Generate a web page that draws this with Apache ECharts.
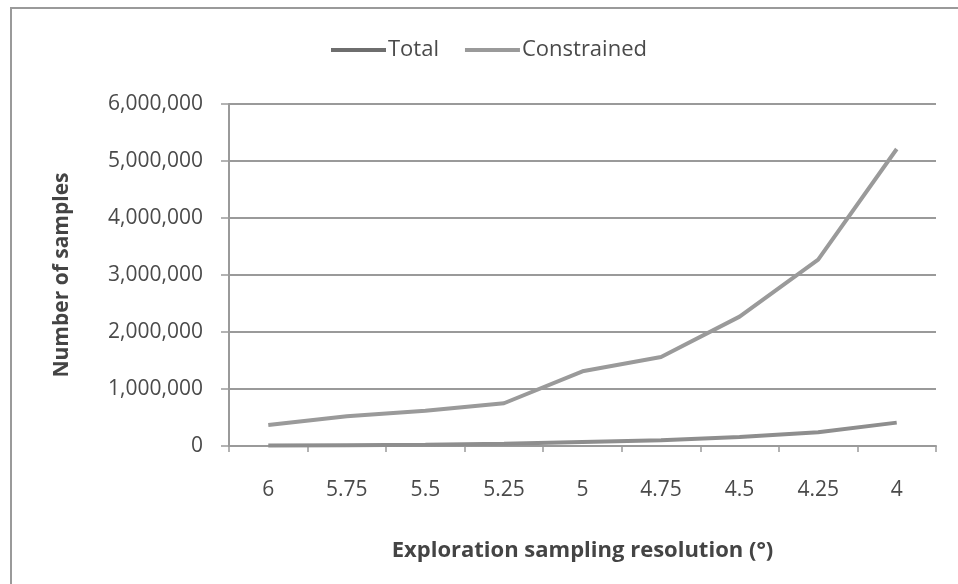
<!DOCTYPE html>
<html>
<head>
<meta charset="utf-8">
<script src="https://cdn.jsdelivr.net/npm/echarts@6/dist/echarts.min.js"></script>
<style>
  html, body { margin: 0; padding: 0; background: #fff; }
  #frame { position: absolute; left: 10px; top: 7px; width: 960px; height: 590px;
           border-left: 2px solid #9a9a9a; border-top: 2px solid #9a9a9a; }
  #chart { position: absolute; left: 0; top: 0; width: 958px; height: 584px; }
</style>
</head>
<body>
<div id="frame"></div>
<div id="chart"></div>
<script>
const categories = ['6', '5.75', '5.5', '5.25', '5', '4.75', '4.5', '4.25', '4'];
const totalValues = [10000, 15000, 20000, 40000, 70000, 100000, 160000, 240000, 410000];
const constrainedValues = [370000, 520000, 620000, 750000, 1310000, 1560000, 2270000, 3270000, 5210000];
const yMin = 0, yMax = 6000000, yStep = 1000000;

const font = '"Open Sans", "Noto Sans", sans-serif';
const chart = echarts.init(document.getElementById('chart'));
chart.setOption({
  animation: false,
  backgroundColor: 'transparent',
  legend: {
    left: 326, top: 34,
    icon: 'rect', itemWidth: 55, itemHeight: 4, itemGap: 26,
    textStyle: { fontFamily: font, fontSize: 22, color: '#4a4a4a', padding: [0, 0, 0, -3] },
    data: ['Total', 'Constrained']
  },
  grid: { left: 229, right: 22, top: 104, bottom: 138, containLabel: false },
  xAxis: {
    type: 'category', data: categories, boundaryGap: true,
    name: 'Exploration sampling resolution (°)', nameLocation: 'middle', nameGap: 94,
    nameTextStyle: { fontFamily: font, fontSize: 22, fontWeight: 'bold', color: '#444' },
    axisLine: { lineStyle: { color: '#9a9a9a', width: 2 } },
    axisTick: { show: true, length: 6, lineStyle: { color: '#9a9a9a', width: 1.5 } },
    axisLabel: { fontFamily: font, fontSize: 21, color: '#4a4a4a', margin: 34 }
  },
  yAxis: {
    type: 'value', min: yMin, max: yMax, interval: yStep,
    name: 'Number of samples', nameLocation: 'middle', nameGap: 156, nameRotate: 90,
    nameTextStyle: { fontFamily: font, fontSize: 21, fontWeight: 'bold', color: '#444' },
    axisLine: { show: true, lineStyle: { color: '#9a9a9a', width: 2 } },
    axisTick: { show: true, length: 8, lineStyle: { color: '#9a9a9a', width: 1.5 } },
    splitLine: { lineStyle: { color: '#9a9a9a', width: 2 } },
    axisLabel: {
      fontFamily: font, fontSize: 21, color: '#4a4a4a', margin: 26,
      formatter: v => v.toLocaleString('en-US')
    }
  },
  series: [
    { name: 'Total', type: 'line', data: totalValues, symbol: 'none',
      lineStyle: { color: '#8e8e8e', width: 4 }, itemStyle: { color: '#6e6e6e' } },
    { name: 'Constrained', type: 'line', data: constrainedValues, symbol: 'none',
      lineStyle: { color: '#9a9a9a', width: 4 }, itemStyle: { color: '#9a9a9a' } }
  ]
});
</script>
</body>
</html>
